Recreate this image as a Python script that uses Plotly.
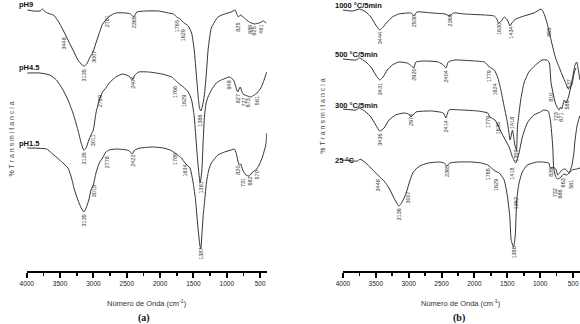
import plotly.graph_objects as go

# ---------------- Panel (a): spectra at different pH ----------------
wn_ph9 = [3990, 3900, 3800, 3763, 3720, 3650, 3600, 3530, 3456, 3382, 3307, 3233, 3170, 3135, 3100,
          3051, 3011, 2972, 2922, 2863, 2814, 2754, 2665, 2517, 2443, 2394, 2350, 2220, 2023, 1875,
          1800, 1750, 1701, 1640, 1578, 1528, 1489, 1454, 1430, 1410, 1390, 1365, 1338, 1306, 1281,
          1232, 1133, 1034, 935, 876, 851, 826, 797, 737, 663, 589, 515, 451, 411]
t_ph9 = [261, 260, 260, 262, 259, 257, 256, 250, 241, 231, 221, 211, 206, 205, 207,
         214, 218, 226, 236, 247, 251, 255, 258, 258, 257, 254, 259, 260, 260, 258,
         257, 254, 252, 248, 245, 238, 221, 194, 175, 163, 160, 165, 175, 198, 221,
         243, 254, 257, 259, 261, 257, 254, 256, 253, 249, 247, 248, 250, 248]

wn_ph45 = [3990, 3803, 3655, 3555, 3456, 3382, 3307, 3233, 3184, 3145, 3110, 3070, 3036, 3002, 2962,
           2913, 2863, 2814, 2764, 2665, 2566, 2468, 2418, 2379, 2320, 2171, 1973, 1824, 1776, 1727,
           1652, 1578, 1528, 1490, 1460, 1430, 1400, 1375, 1355, 1335, 1310, 1282, 1231, 1157, 1083,
           1009, 960, 900, 837, 800, 757, 690, 640, 589, 549, 490, 441, 401]
t_ph45 = [198, 198, 196, 191, 181, 171, 158, 141, 128, 121, 123, 131, 136, 141, 158,
          171, 179, 183, 188, 194, 197, 195, 191, 196, 199, 199, 197, 194, 191, 188,
          184, 179, 171, 155, 130, 105, 88, 100, 130, 155, 168, 174, 181, 188, 191,
          193, 194, 191, 179, 184, 177, 175, 174, 176, 178, 183, 191, 199]

wn_ph15 = [3990, 3703, 3629, 3506, 3382, 3333, 3284, 3233, 3184, 3145, 3110, 3070, 3036, 3002, 2962,
           2913, 2863, 2814, 2764, 2650, 2500, 2460, 2418, 2380, 2300, 2100, 1950, 1850, 1800, 1776,
           1740, 1680, 1627, 1553, 1504, 1469, 1439, 1405, 1390, 1370, 1356, 1331, 1306, 1271, 1232,
           1133, 1034, 935, 886, 860, 837, 812, 790, 763, 713, 663, 614, 564, 515, 466, 416, 401]
t_ph15 = [123, 122, 118, 111, 103, 94, 81, 71, 63, 59, 63, 71, 81, 86, 98,
          108, 113, 119, 121, 122, 121, 120, 117, 121, 123, 124, 123, 121, 119, 118,
          116, 113, 108, 103, 88, 71, 48, 26, 22, 40, 54, 71, 88, 101, 108,
          116, 119, 121, 122, 118, 111, 106, 107, 101, 96, 95, 99, 101, 106, 114, 126, 138]

# ---------------- Panel (b): spectra after heat treatment ----------------
wn_1000 = [4000, 3850, 3750, 3650, 3575, 3500, 3440, 3389, 3324, 3249, 3149, 3024, 2960, 2923, 2874,
           2648, 2448, 2373, 2322, 2148, 1848, 1698, 1660, 1634, 1590, 1547, 1500, 1457, 1422, 1371,
           1246, 1096, 986, 946, 896, 846, 771, 696, 621, 571, 521, 481, 456]
t_1000 = [261, 260, 262, 259, 254, 246, 241, 244, 249, 254, 257, 258, 258, 255, 259,
          258, 257, 255, 258, 257, 256, 255, 252, 248, 250, 254, 251, 245, 249, 252,
          255, 258, 262, 258, 248, 234, 214, 201, 189, 182, 186, 199, 203]

wn_500 = [4000, 3800, 3750, 3650, 3575, 3500, 3440, 3389, 3324, 3249, 3149, 3024, 2974, 2923, 2889,
          2749, 2548, 2473, 2433, 2398, 2298, 1998, 1848, 1773, 1698, 1648, 1598, 1547, 1497, 1457,
          1422, 1385, 1361, 1346, 1296, 1247, 1172, 1071, 971, 896, 861, 835, 805, 771, 736,
          711, 690, 671, 636, 606, 571, 535, 495, 470, 445, 420, 396]
t_500 = [212, 211, 213, 209, 204, 196, 191, 194, 201, 206, 209, 208, 206, 203, 209,
         210, 209, 206, 203, 209, 211, 210, 209, 204, 201, 194, 181, 164, 148, 131,
         141, 126, 121, 144, 171, 188, 199, 206, 211, 211, 208, 188, 178, 168, 163,
         161, 164, 162, 171, 168, 174, 184, 198, 206, 209, 201, 191]

wn_300 = [4000, 3800, 3750, 3650, 3575, 3500, 3440, 3374, 3299, 3199, 3074, 3000, 2964, 2889, 2648,
          2473, 2433, 2388, 2198, 1948, 1798, 1764, 1688, 1638, 1587, 1547, 1497, 1472, 1422, 1372,
          1322, 1272, 1197, 1097, 996, 946, 880, 846, 810, 796, 770, 740, 700, 670, 640, 600,
          560, 520, 490, 470, 440, 400]
t_300 = [162, 161, 163, 159, 154, 146, 140, 143, 151, 156, 158, 157, 154, 159, 160,
         158, 153, 161, 161, 160, 158, 154, 151, 145, 138, 133, 127, 124, 114, 108,
         118, 134, 148, 156, 159, 161, 160, 151, 125, 104, 95, 92, 93, 95, 97, 96,
         98, 105, 117, 131, 145, 155]

wn_25 = [4000, 3775, 3740, 3650, 3575, 3500, 3440, 3374, 3299, 3224, 3174, 3149, 3108, 3063, 3033,
         2988, 2938, 2874, 2798, 2698, 2548, 2458, 2423, 2373, 2248, 2047, 1897, 1797, 1758, 1688,
         1623, 1548, 1497, 1462, 1442, 1406, 1380, 1357, 1322, 1272, 1197, 1047, 971, 871, 846,
         796, 756, 736, 706, 671, 621, 556, 521, 445, 395]
t_25 = [111, 110, 112, 108, 103, 98, 94, 90, 83, 73, 67, 65, 68, 74, 79,
        89, 98, 103, 106, 108, 109, 108, 105, 108, 109, 109, 108, 106, 104, 100,
        98, 91, 74, 54, 31, 24, 35, 71, 88, 99, 106, 109, 109, 108, 103,
        104, 101, 96, 98, 101, 102, 98, 101, 102, 103]

# ---------------- Peak labels (text) ----------------
pk_ph9 = ["3448", "3135", "3007", "2781", "2365", "1765", "1629", "1386", "825", "686", "625", "461"]
pk_ph45 = ["3135", "3011", "2799", "2404", "1766", "1629", "1381", "948", "827", "727", "673", "561"]
pk_ph15 = ["3135", "3015", "2778", "2422", "1789", "1634", "1387", "820", "731", "682", "570"]
pk_1000 = ["3444", "2930", "2369", "1630", "1434", "855", "537"]
pk_500 = ["3431", "2920", "2404", "1779", "1624", "1418", "810", "723", "671", "586"]
pk_300 = ["3436", "2974", "2414", "1779", "1636", "1359"]
pk_25 = ["3448", "3136", "3007", "2365", "1765", "1629", "1418", "1362", "1386", "826", "732", "686", "663", "561"]

series_a = ["pH9", "pH4.5", "pH1.5"]
series_b = ["1000 °C/5min", "500 °C/5min", "300 °C/5min", "25 °C"]
tick_vals = [4000, 3500, 3000, 2500, 2000, 1500, 1000, 500]
x_title = "Número de Onda (cm<sup>-1</sup>)"
y_title = "% T r a n s m i t a n c i a"

# ---------------- Label placement (layout) ----------------
lp_ph9 = [(3456, 227.5), (3135, 196), (3002, 214.5), (2799, 249.5), (2394, 248.5), (1750, 244.5),
          (1652, 236), (1415, 150.5), (837, 244), (663, 241.5), (585, 240), (500, 241.5)]
lp_ph45 = [(3135, 113), (3002, 131), (2898, 170), (2418, 188.5), (1776, 179), (1642, 170),
           (1380, 84), (960, 186), (837, 172.5), (757, 168.5), (678, 168), (545, 170)]
lp_ph15 = [(3135, 51), (2996, 79.5), (2799, 108.5), (2418, 110.5), (1776, 112), (1627, 100.5),
           (1390, 17), (837, 101), (763, 88.5), (659, 90), (540, 96)]
lp_1000 = [(3440, 232.5), (2923, 249.5), (2373, 250.5), (1634, 241.5), (1457, 238.5), (876, 238.5), (556, 187)]
lp_500 = [(3440, 181.5), (2923, 196), (2433, 194.5), (1773, 195), (1702, 181.5), (1436, 147.5),
          (846, 173.5), (756, 154), (696, 153.5), (586, 166)]
lp_300 = [(3440, 131), (2964, 151), (2433, 144.5), (1792, 149), (1646, 142.5), (1372, 115)]
lp_25 = [(3459, 86), (3148, 56.5), (3024, 73.5), (2423, 99.5), (1788, 97), (1672, 86), (1442, 97.5),
         (1372, 67.5), (1406, 18), (846, 98.5), (771, 78), (706, 77), (655, 88.5), (535, 87)]

W, H = 580, 324
AX_Y = 271  # pixel row of the x axis line
line_col = "#333333"

fig = go.Figure()
for wn, tt in [(wn_ph9, t_ph9), (wn_ph45, t_ph45), (wn_ph15, t_ph15)]:
    fig.add_trace(go.Scatter(x=wn, y=tt, mode="lines", xaxis="x", yaxis="y",
                             line=dict(color=line_col, width=1, shape="spline", smoothing=0.5),
                             showlegend=False, hoverinfo="skip"))
for wn, tt in [(wn_1000, t_1000), (wn_500, t_500), (wn_300, t_300), (wn_25, t_25)]:
    fig.add_trace(go.Scatter(x=wn, y=tt, mode="lines", xaxis="x2", yaxis="y2",
                             line=dict(color=line_col, width=1, shape="spline", smoothing=0.5),
                             showlegend=False, hoverinfo="skip"))

ann = []
def peak_labels(texts, pos, xr, yr):
    for txt, (px, py) in zip(texts, pos):
        ann.append(dict(text=txt, x=px, y=py, xref=xr, yref=yr, showarrow=False, textangle=-90,
                        xanchor="center", yanchor="middle",
                        font=dict(family="Arial", size=5.5, color="#333333")))

peak_labels(pk_ph9, lp_ph9, "x", "y")
peak_labels(pk_ph45, lp_ph45, "x", "y")
peak_labels(pk_ph15, lp_ph15, "x", "y")
peak_labels(pk_1000, lp_1000, "x2", "y2")
peak_labels(pk_500, lp_500, "x2", "y2")
peak_labels(pk_300, lp_300, "x2", "y2")
peak_labels(pk_25, lp_25, "x2", "y2")

# series names (paper coordinates, pixel positions converted)
for name, (px, py) in zip(series_a, [(10.5, 4), (10.5, 67.5), (10.5, 143)]):
    ann.append(dict(text="<b>" + name + "</b>", x=px / W, y=1 - py / H, xref="paper", yref="paper",
                    showarrow=False, xanchor="left", yanchor="middle",
                    font=dict(family="Arial", size=7.5, color="#111")))
for name, (px, py) in zip(series_b, [(330, 5.5), (330, 54.5), (330, 105.5), (330, 160.5)]):
    ann.append(dict(text="<b>" + name + "</b>", x=px / W, y=1 - py / H, xref="paper", yref="paper",
                    showarrow=False, xanchor="left", yanchor="middle",
                    font=dict(family="Arial", size=7.5, color="#111")))

# axis titles, panel letters
for cx, cy in [(4.5, 139), (319, 116.5)]:
    ann.append(dict(text=y_title, x=cx / W, y=1 - cy / H, xref="paper", yref="paper", showarrow=False,
                    textangle=-90, xanchor="center", yanchor="middle",
                    font=dict(family="Arial", size=7, color="#444")))
for cx in [141.5, 459.5]:
    ann.append(dict(text=x_title, x=cx / W, y=1 - 302.7 / H, xref="paper", yref="paper", showarrow=False,
                    xanchor="center", yanchor="middle", font=dict(family="Arial", size=7.5, color="#333")))
for txt, cx in [("(a)", 139), ("(b)", 457.5)]:
    ann.append(dict(text="<b>" + txt + "</b>", x=cx / W, y=1 - 317.5 / H, xref="paper", yref="paper",
                    showarrow=False, xanchor="center", yanchor="middle",
                    font=dict(family="Liberation Serif, Times New Roman", size=10, color="#111")))

xa_common = dict(showline=True, linecolor="black", linewidth=2, ticks="outside", ticklen=5, tickwidth=2,
                 tickcolor="black", tickmode="array", tickvals=tick_vals,
                 ticktext=[str(v) for v in tick_vals], showgrid=False, zeroline=False,
                 tickfont=dict(family="Arial", size=6.5, color="#222"),
                 minor=dict(tickvals=[3750, 3250, 2750, 2250, 1750, 1250, 750], ticklen=3,
                            tickwidth=1.5, tickcolor="black", ticks="outside"))
ya_common = dict(visible=False, range=[0, AX_Y], domain=[1 - AX_Y / H, 1], fixedrange=True)

fig.update_layout(
    width=W, height=H, margin=dict(l=0, r=0, t=0, b=0),
    paper_bgcolor="white", plot_bgcolor="white",
    xaxis=dict(xa_common, domain=[20 / W, 263 / W], range=[4000, 400], anchor="y"),
    xaxis2=dict(xa_common, domain=[340 / W, 1.0], range=[4000, 395], anchor="y2"),
    yaxis=dict(ya_common, anchor="x"),
    yaxis2=dict(ya_common, anchor="x2"),
    annotations=ann,
)

fig.write_html("out.html", config={"displayModeBar": False, "staticPlot": True},
               post_script="document.body.style.margin='0px';document.body.style.overflow='hidden';")
